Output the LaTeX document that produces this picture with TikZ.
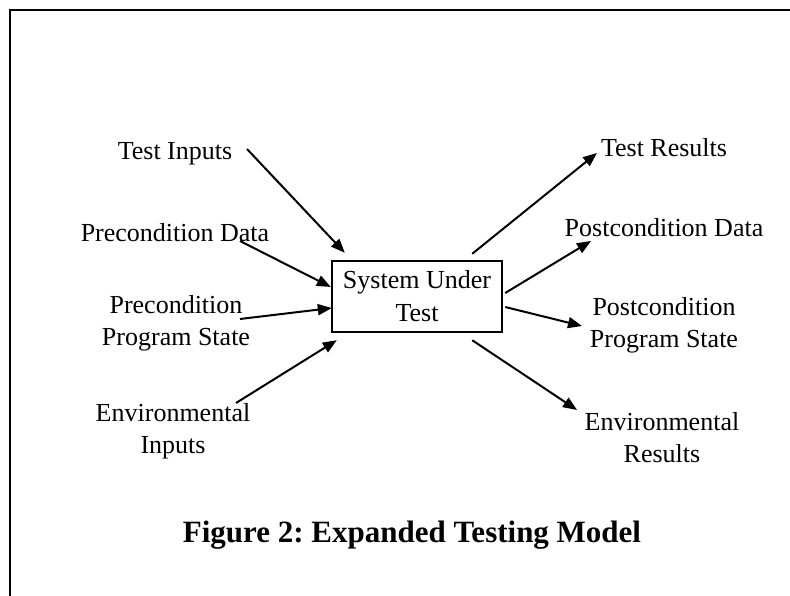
\documentclass[tikz,border=0pt]{standalone}
\usepackage{fontspec}
\setmainfont{Liberation Serif}
\usetikzlibrary{arrows.meta}
\begin{document}
\frenchspacing
\begin{tikzpicture}[x=1pt,y=-1pt,
  lbl/.style={inner sep=0pt, align=center, font=\fontsize{26}{32}\selectfont},
  arr/.style={line width=2pt, -{Triangle[length=14pt,width=11pt]}},
  frame/.style={line width=2.6pt},
  sutbox/.style={draw, line width=2.4pt, minimum width=170pt, minimum height=71pt, inner sep=0pt, align=center, font=\fontsize{26}{33}\selectfont}]
\useasboundingbox (0,0) rectangle (790,596);
\draw[frame] (10,596) -- (10,10) -- (790,10);
\node[sutbox] (sut) at (417,296.5) {\raisebox{-3pt}{System Under}\\\raisebox{-3pt}{Test}};
% left labels
\node[lbl] (ti) at (175,154) {Test Inputs};
\node[lbl] (pd) at (175,233) {Precondition Data};
\node[lbl] (pps) at (176,323) {Precondition\\Program State};
\node[lbl] (ei) at (173,431) {Environmental\\Inputs};
% right labels
\node[lbl] (tr) at (664,148) {Test Results};
\node[lbl] (pod) at (664,228) {Postcondition Data};
\node[lbl] (pops) at (664,325) {Postcondition\\Program State};
\node[lbl] (er) at (662,438) {Environmental\\Results};
\node[inner sep=0pt, font=\fontsize{31}{36}\selectfont\bfseries] (title) at (412,535) {Figure 2: Expanded Testing Model};
% connector end points
\coordinate (tis) at (247,149);
\coordinate (pds) at (240,241);
\coordinate (ppss) at (240,319);
\coordinate (eis) at (236,403);
\coordinate (trt) at (597,153);
\coordinate (podt) at (591,241);
\coordinate (popst) at (582,326);
\coordinate (ert) at (577,410);
% inputs
\draw[arr] (tis) -- ([shift={(14,-7)}]sut.north west);
\draw[arr] (pds) -- ([shift={(0,-9.5)}]sut.west);
\draw[arr] (ppss) -- ([shift={(1,11.5)}]sut.west);
\draw[arr] (eis) -- ([shift={(6,7)}]sut.south west);
% outputs
\draw[arr] ([shift={(-31,-6)}]sut.north east) -- (trt);
\draw[arr] ([shift={(2,-3.5)}]sut.east) -- (podt);
\draw[arr] ([shift={(2,10.5)}]sut.east) -- (popst);
\draw[arr] ([shift={(-31,7)}]sut.south east) -- (ert);
\end{tikzpicture}
\end{document}
